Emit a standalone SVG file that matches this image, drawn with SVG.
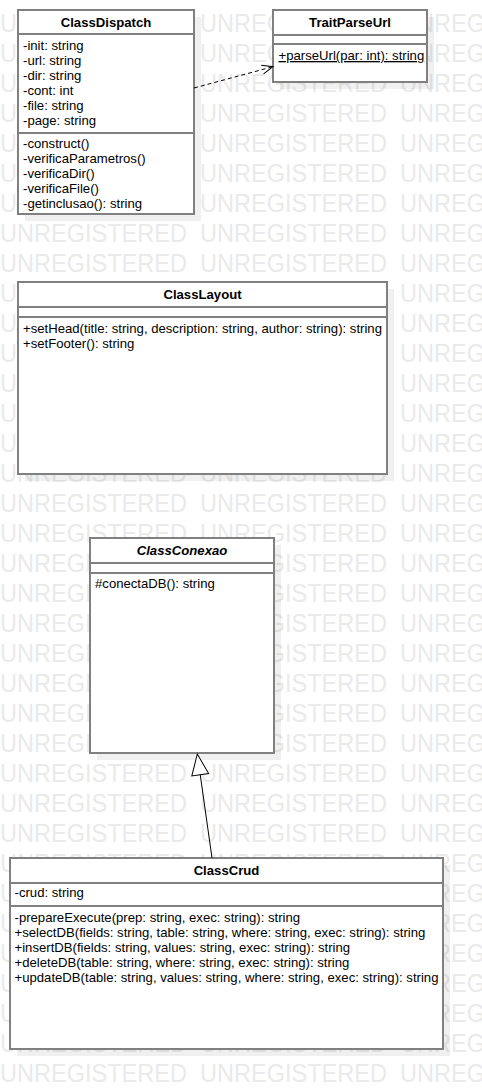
<svg xmlns="http://www.w3.org/2000/svg" width="482" height="1090" viewBox="0 0 482 1090">
<defs>
<style>
.wm{font-family:"Liberation Sans",Arial,sans-serif;font-size:26px;fill:#eaeaea}
.box{fill:#fff;stroke:#808080;stroke-width:2}
.sep{stroke:#808080;stroke-width:2}
.sh{fill:#000;fill-opacity:0.06}
.t{font-family:"Liberation Sans",Arial,sans-serif;font-size:13.15px;fill:#000}
.ttl{font-weight:bold;text-anchor:middle}
.conn{fill:none;stroke:#000;stroke-width:1}
</style>
<marker id="open" markerUnits="userSpaceOnUse" markerWidth="12" markerHeight="12" refX="0" refY="0" orient="auto" overflow="visible"><path d="M-11,-4.5 L0,0 L-11,4.5" fill="none" stroke="#000" stroke-width="1"/></marker>
<marker id="tri" markerUnits="userSpaceOnUse" markerWidth="22" markerHeight="20" refX="0" refY="0" orient="auto" overflow="visible"><path d="M0,0 L-21,-8.5 L-21,8.5 Z" fill="#fff" stroke="#000" stroke-width="1"/></marker>
<g id="wr"><text class="wm" x="0" y="0" textLength="187" lengthAdjust="spacingAndGlyphs">UNREGISTERED</text><text class="wm" x="200" y="0" textLength="187" lengthAdjust="spacingAndGlyphs">UNREGISTERED</text><text class="wm" x="400" y="0" textLength="187" lengthAdjust="spacingAndGlyphs">UNREGISTERED</text></g>
</defs>
<rect width="482" height="1090" fill="#fff"/>
<g id="watermark">
<use href="#wr" y="32"/><use href="#wr" y="62"/><use href="#wr" y="92"/><use href="#wr" y="122"/><use href="#wr" y="152"/><use href="#wr" y="182"/><use href="#wr" y="212"/><use href="#wr" y="242"/><use href="#wr" y="272"/><use href="#wr" y="302"/><use href="#wr" y="332"/><use href="#wr" y="362"/><use href="#wr" y="392"/><use href="#wr" y="422"/><use href="#wr" y="452"/><use href="#wr" y="482"/><use href="#wr" y="512"/><use href="#wr" y="542"/><use href="#wr" y="572"/><use href="#wr" y="602"/><use href="#wr" y="632"/><use href="#wr" y="662"/><use href="#wr" y="692"/><use href="#wr" y="722"/><use href="#wr" y="752"/><use href="#wr" y="782"/><use href="#wr" y="812"/><use href="#wr" y="842"/><use href="#wr" y="872"/><use href="#wr" y="902"/><use href="#wr" y="932"/><use href="#wr" y="962"/><use href="#wr" y="992"/><use href="#wr" y="1022"/><use href="#wr" y="1052"/><use href="#wr" y="1082"/>
</g>
<g id="shadows">
<rect class="sh" x="25" y="17" width="176" height="204"/>
<rect class="sh" x="280" y="17" width="154" height="72"/>
<rect class="sh" x="25" y="289" width="369" height="192"/>
<rect class="sh" x="97" y="545" width="184" height="215"/>
<rect class="sh" x="17" y="865" width="433" height="191"/>
</g>
<g id="ClassDispatch">
<rect class="box" x="18" y="10" width="176" height="204"/>
<line class="sep" x1="18" y1="34" x2="194" y2="34"/>
<line class="sep" x1="18" y1="133" x2="194" y2="133"/>
<text class="t ttl" x="106" y="27.3">ClassDispatch</text>
<text class="t" x="23" y="49.5">-init: string</text>
<text class="t" x="23" y="64.5">-url: string</text>
<text class="t" x="23" y="79.5">-dir: string</text>
<text class="t" x="23" y="94.5">-cont: int</text>
<text class="t" x="23" y="109.5">-file: string</text>
<text class="t" x="23" y="124.5">-page: string</text>
<text class="t" x="23" y="148">-construct()</text>
<text class="t" x="23" y="163">-verificaParametros()</text>
<text class="t" x="23" y="178">-verificaDir()</text>
<text class="t" x="23" y="193">-verificaFile()</text>
<text class="t" x="23" y="208">-getinclusao(): string</text>
</g>
<g id="TraitParseUrl">
<rect class="box" x="273" y="10" width="154" height="72"/>
<line class="sep" x1="273" y1="35" x2="427" y2="35"/>
<line class="sep" x1="273" y1="44" x2="427" y2="44"/>
<text class="t ttl" x="350" y="27.3">TraitParseUrl</text>
<text class="t" x="278.5" y="60" text-decoration="underline">+parseUrl(par: int): string</text>
</g>
<g id="ClassLayout">
<rect class="box" x="18" y="282" width="369" height="192"/>
<line class="sep" x1="18" y1="307" x2="387" y2="307"/>
<line class="sep" x1="18" y1="317" x2="387" y2="317"/>
<text class="t ttl" x="202.5" y="299.3">ClassLayout</text>
<text class="t" x="23" y="332.7">+setHead(title: string, description: string, author: string): string</text>
<text class="t" x="23" y="347.5">+setFooter(): string</text>
</g>
<g id="ClassConexao">
<rect class="box" x="90" y="538" width="184" height="215"/>
<line class="sep" x1="90" y1="563" x2="274" y2="563"/>
<line class="sep" x1="90" y1="573" x2="274" y2="573"/>
<text class="t ttl" x="182" y="555.3" font-style="italic">ClassConexao</text>
<text class="t" x="95" y="588.3">#conectaDB(): string</text>
</g>
<g id="ClassCrud">
<rect class="box" x="10" y="858" width="433" height="191"/>
<line class="sep" x1="10" y1="883" x2="443" y2="883"/>
<line class="sep" x1="10" y1="906" x2="443" y2="906"/>
<text class="t ttl" x="226.5" y="874.6">ClassCrud</text>
<text class="t" x="14.5" y="897.3">-crud: string</text>
<text class="t" x="14.5" y="921.5">-prepareExecute(prep: string, exec: string): string</text>
<text class="t" x="14.5" y="936.5">+selectDB(fields: string, table: string, where: string, exec: string): string</text>
<text class="t" x="14.5" y="951.5">+insertDB(fields: string, values: string, exec: string): string</text>
<text class="t" x="14.5" y="966.5">+deleteDB(table: string, where: string, exec: string): string</text>
<text class="t" x="14.5" y="981.5">+updateDB(table: string, values: string, where: string, exec: string): string</text>
</g>
<g id="connectors">
<path class="conn" d="M194,88 L273,66.7" stroke-dasharray="4 3" marker-end="url(#open)"/>
<path class="conn" d="M212,858 L197.3,754" marker-end="url(#tri)"/>
</g>
</svg>
